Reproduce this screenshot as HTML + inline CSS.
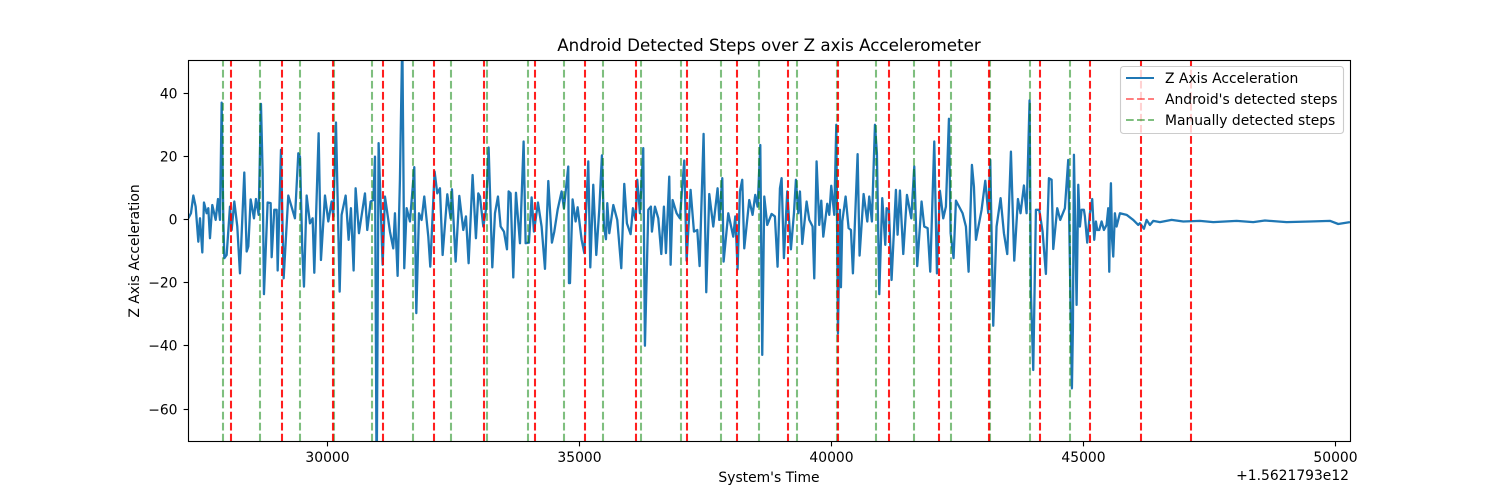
<!DOCTYPE html>
<html lang="en">
<head>
<meta charset="utf-8">
<title>Android Detected Steps over Z axis Accelerometer</title>
<style>
html,body{margin:0;padding:0;background:#fff;width:1500px;height:496px;overflow:hidden}
svg{display:block}
text{font-family:"DejaVu Sans","Liberation Sans",sans-serif;fill:#000}
</style>
</head>
<body>
<svg id="chart" xmlns="http://www.w3.org/2000/svg" width="1500" height="496" viewBox="0 0 1500 496">
<defs><clipPath id="plot-clip"><rect x="188" y="60" width="1162" height="381.5"></rect></clipPath></defs>
<rect x="0" y="0" width="1500" height="496" fill="#fff"></rect>
<text x="769" y="51" font-size="16.72" text-anchor="middle">Android Detected Steps over Z axis Accelerometer</text>
<g id="series-layer" clip-path="url(#plot-clip)"></g>
<rect x="188.5" y="60.5" width="1162" height="381" fill="none" stroke="#000" stroke-width="1.11"></rect>
<g id="tick-layer"></g>
<text x="769" y="482" font-size="13.89" text-anchor="middle">System's Time</text>
<text x="1349" y="480" font-size="13.89" text-anchor="end">+1.5621793e12</text>
<text transform="translate(139 251) rotate(-90)" font-size="13.89" text-anchor="middle">Z Axis Acceleration</text>
<g>
<rect x="1120.5" y="66.5" width="223" height="67" rx="3" fill="#fff" fill-opacity="0.8" stroke="#ccc" stroke-width="1.11"></rect>
<line x1="1126" x2="1154" y1="78" y2="78" stroke="#1f77b4" stroke-width="2.08"></line>
<text x="1165" y="83" font-size="13.89">Z Axis Acceleration</text>
<line x1="1126" x2="1154" y1="99" y2="99" stroke="#ff0000" stroke-opacity="0.5" stroke-width="2.08" stroke-dasharray="7.7 3.33"></line>
<text x="1165" y="104" font-size="13.89">Android's detected steps</text>
<line x1="1126" x2="1154" y1="120" y2="120" stroke="#008000" stroke-opacity="0.5" stroke-width="2.08" stroke-dasharray="7.7 3.33"></line>
<text x="1165" y="125" font-size="13.89">Manually detected steps</text>
</g>
</svg>
<script>
const xTicks = [30000, 35000, 40000, 45000, 50000];
const yTicks = [-60, -40, -20, 0, 20, 40];
const androidSteps = [28083,29095,30107,31099,32111,33109,34115,35106,36118,37130,38122,39134,40138,41138,42130,43128,44134,45126,46137,47130];
const manualSteps = [27924,28659,29452,30133,30881,31694,32448,33162,33976,34690,35464,36218,37011,37805,38559,39313,40113,40880,41634,42368,43148,43936,44730];
const sampleTimes = [
27242,27295,27342,27388,27441,27474,27520,27553,27606,27639,27672,27718,27785,27831,27871,27904,27937,27957,28003,28069,
28102,28155,28214,28267,28353,28400,28433,28479,28545,28585,28638,28684,28717,28743,28816,28876,28896,28948,28995,29015,
29081,29134,29226,29358,29425,29458,29504,29537,29590,29656,29709,29742,29828,29874,29954,30020,30086,30119,30172,30245,
30284,30364,30423,30469,30522,30562,30628,30747,30793,30860,30913,30946,30979,31018,31098,31144,31243,31309,31342,31395,
31441,31488,31527,31574,31640,31726,31766,31819,31871,31924,32004,32043,32129,32182,32235,32288,32381,32447,32473,32546,
32619,32698,32751,32804,32883,32949,32996,
33029,33095,33148,33201,33274,33327,33386,33439,33505,33565,33598,33637,33690,33743,33823,33895,33935,34001,34054,34100,
34180,34252,34319,34385,34457,34504,34570,34649,34695,34781,34795,34815,34867,34927,34967,35046,35099,35178,35218,35277,
35337,35396,35449,35489,35529,35555,35595,35675,35753,35833,35892,35945,36018,36064,36117,36150,36203,36269,36302,36369,
36421,36441,36501,36567,36627,36679,36719,36785,36812,36851,36931,36997,37043,37083,37129,37208,37275,37341,37387,37466,
37519,37579,37658,37744,37777,37837,37863,37956,38055,38095,38141,38187,38233,38273,38372,38438,38491,38538,38591,38630,
38670,38729,38815,38881,38934,38981,
39014,39060,39126,39199,39259,39298,39345,39378,39424,39510,39563,39629,39662,39708,39761,39801,39841,39920,39960,39999,
40059,40099,40132,40171,40191,40218,40284,40343,40390,40429,40522,40561,40641,40714,40753,40806,40866,40905,40952,41011,
41071,41097,41143,41196,41282,41315,41362,41428,41501,41587,41646,41705,41791,41844,41911,41963,42043,42096,42155,42221,
42274,42334,42367,42426,42473,42605,42671,42724,42790,42830,42870,42982,43055,43114,43154,43213,43279,43359,43425,43491,
43564,43630,43703,43755,43822,43875,43934,43961,44007,44060,44126,44192,44258,44318,44371,44404,44483,44542,44635,44701,
44774,44794,44814,44867,44900,
44933,44966,45012,45032,45078,45131,45177,45217,45250,45277,45316,45363,45409,45462,45495,45505,45515,45530,45548,45570,
45594,45627,45660,45726,45859,45991,46090,
46124,46203,46256,46322,46388,46521,46752,46984,47314,47579,48042,48372,48604,49034,49497,49893,50058,50290
];
const zAcceleration = [
0.5,2.1,7.7,4.2,-6.9,0.5,-10.3,5.5,2.1,3.7,-5.8,4.7,0,6.6,0,37.1,0,-12.1,-11.1,4.2,
-3.2,5.8,-2.1,-16.9,15,-10,-8.4,6.5,0.5,6.6,1.6,36.7,14.8,-23.5,5.5,5.3,-11.8,3.2,3.2,-16,
22.2,-18.5,7.7,0.5,21.1,20,-9.5,-21.1,7.7,-1.1,0.5,-16.7,27.4,-12.7,7.7,-0.5,5.8,1.1,30.8,-22.7,
1.6,7.7,-6.3,3.7,-16,10,-4.2,8.4,-3.2,5.8,6.3,20,-85,24.3,-14.2,7.4,-3.7,-9,2.1,-17.7,
12.7,58,-15.3,3.7,-0.5,16.7,-29.5,2.1,0,7.4,-5.3,-14.8,15.3,8.4,10,-11.1,8.1,0.5,9.7,-13.2,
7.6,-3.2,1.1,-13.7,14.2,-5.8,8.4,
7.4,-2.1,3.2,22.9,-15,2.1,7.4,-2.1,-3.7,-9.3,9,8.4,-18.2,8.6,-7.4,24.8,-7.4,-7.2,7.1,-3.7,
5.5,-2.1,-15.5,12.3,-7.2,-3.7,3.2,9,3.7,16.9,-20,-20,6.5,-0.5,4,-6.3,-10.5,18.5,-15,11.1,
-11.1,3.2,20.4,-2.1,-6.1,5.3,-4.2,4.7,0,-15.3,11.4,-1.1,-4.5,3.7,0,12.7,2.1,22.7,-39.8,3.2,
4.2,-3.7,4.2,0.5,-10.8,4.2,-10.5,13.7,-14.2,6.3,2.1,0.5,10.5,18.8,-12.9,9.5,-3.7,-3.2,-14.6,27.2,
-22.9,8.2,-2.1,10,0,13.2,-13.2,2.1,-5.3,1.1,-15.6,9,12.7,-9,6.3,1.6,7.9,4.2,23.7,-42.7,
7.4,-1.6,1.9,1.1,-14.8,10,
13.2,-12.1,9,-9.3,2.1,12.7,2.1,9,-7.6,5.8,0,-2.1,-18.5,18.5,-1.6,6.1,-5.3,5.1,1.6,10.8,
1.6,30.1,-35.9,3.2,-21.3,-0.5,7.4,-2.6,-3.2,-16.9,20.8,-11.3,8.2,-0.5,7.4,-0.5,30.1,21.1,-23.5,6.9,
-7.9,3.7,3.2,-19,9.5,-4.7,9.3,-10.8,7.9,0.5,16.9,-14.6,5.8,-2.1,-2.6,-16.4,24.8,-16.9,9.2,0.5,
4.2,32,-4.2,-12.1,6.1,2.1,-2.1,-16.4,17.4,10.5,-6.3,3.2,12.4,2.1,19,-33.5,-2.1,6.9,-4.2,-10.8,
21.6,-12.9,6.6,2.1,10.9,2.1,37.8,-23.2,-47.5,3.2,3.2,-3.7,-17.1,13.2,12.7,-9.2,3.7,0,3.7,19,
-53.3,-33.8,20.6,-26.9,11.1,
-2.1,3.2,3.2,1.1,-7.2,2.1,6.6,-6.3,-0.5,-3.2,-3.2,-0.5,-3.2,-1.6,3.7,-8,-16.4,2,11.6,-6,
-11.6,2.1,-2.1,2.1,1.6,0,-1.6,
-1.05,-2.8,0,-1.6,-0.3,-0.7,0,-0.5,-0.3,-0.7,-0.3,-0.7,-0.2,-0.7,-0.5,-0.3,-1.3,-0.7
];

const SVG_NS = 'http://www.w3.org/2000/svg';
function xScale(t) { return 327.3 + (t - 30000) * 0.0504; }
function yScale(v) { return 219.9 - v * 3.16; }

const seriesLayer = document.getElementById('series-layer');
const tickLayer = document.getElementById('tick-layer');

const accelLine = document.createElementNS(SVG_NS, 'polyline');


accelLine.setAttribute('points', sampleTimes.map(function (t, i) {
  return xScale(t).toFixed(2) + ',' + yScale(zAcceleration[i]).toFixed(2);
}).join(' '));
accelLine.setAttribute('fill', 'none');
accelLine.setAttribute('stroke', '#1f77b4');
accelLine.setAttribute('stroke-width', '2.3');
accelLine.setAttribute('stroke-linejoin', 'round');
seriesLayer.appendChild(accelLine);

manualSteps.forEach(function (t) {
  const el = document.createElementNS(SVG_NS, 'line');
  
  
  const x = Math.round(xScale(t));
  el.setAttribute('x1', x);
  el.setAttribute('x2', x);
  el.setAttribute('y1', 441.5);
  el.setAttribute('y2', 60);
  el.setAttribute('stroke', '#008000');
  el.setAttribute('stroke-opacity', '0.5');
  el.setAttribute('stroke-width', '2.08');
  el.setAttribute('stroke-dasharray', '7.7 3.33');
  seriesLayer.appendChild(el);
});

androidSteps.forEach(function (t) {
  const el = document.createElementNS(SVG_NS, 'line');
  
  
  const x = Math.round(xScale(t));
  el.setAttribute('x1', x);
  el.setAttribute('x2', x);
  el.setAttribute('y1', 441.5);
  el.setAttribute('y2', 60);
  el.setAttribute('stroke', '#ff0000');
  el.setAttribute('stroke-opacity', '0.88');
  el.setAttribute('stroke-width', '2.08');
  el.setAttribute('stroke-dasharray', '7.7 3.33');
  seriesLayer.appendChild(el);
});

xTicks.forEach(function (t) {
  const x = Math.round(xScale(t)) + 0.5;
  const mark = document.createElementNS(SVG_NS, 'line');
  
  
  mark.setAttribute('x1', x);
  mark.setAttribute('x2', x);
  mark.setAttribute('y1', 441.5);
  mark.setAttribute('y2', 446.4);
  mark.setAttribute('stroke', '#000');
  mark.setAttribute('stroke-width', '1.11');
  tickLayer.appendChild(mark);
  const label = document.createElementNS(SVG_NS, 'text');
  
  
  label.setAttribute('x', x);
  label.setAttribute('y', 462);
  label.setAttribute('font-size', '13.89');
  label.setAttribute('text-anchor', 'middle');
  label.textContent = String(t);
  tickLayer.appendChild(label);
});

yTicks.forEach(function (v) {
  const y = Math.round(yScale(v) - 1) + 0.5;
  const mark = document.createElementNS(SVG_NS, 'line');
  
  
  mark.setAttribute('x1', 183.6);
  mark.setAttribute('x2', 188.5);
  mark.setAttribute('y1', y);
  mark.setAttribute('y2', y);
  mark.setAttribute('stroke', '#000');
  mark.setAttribute('stroke-width', '1.11');
  tickLayer.appendChild(mark);
  const label = document.createElementNS(SVG_NS, 'text');
  
  
  label.setAttribute('x', 177.5);
  label.setAttribute('y', y + 5);
  label.setAttribute('font-size', '13.89');
  label.setAttribute('text-anchor', 'end');
  label.textContent = v < 0 ? '\u2212' + Math.abs(v) : String(v);
  tickLayer.appendChild(label);
});
</script>
</body>
</html>
